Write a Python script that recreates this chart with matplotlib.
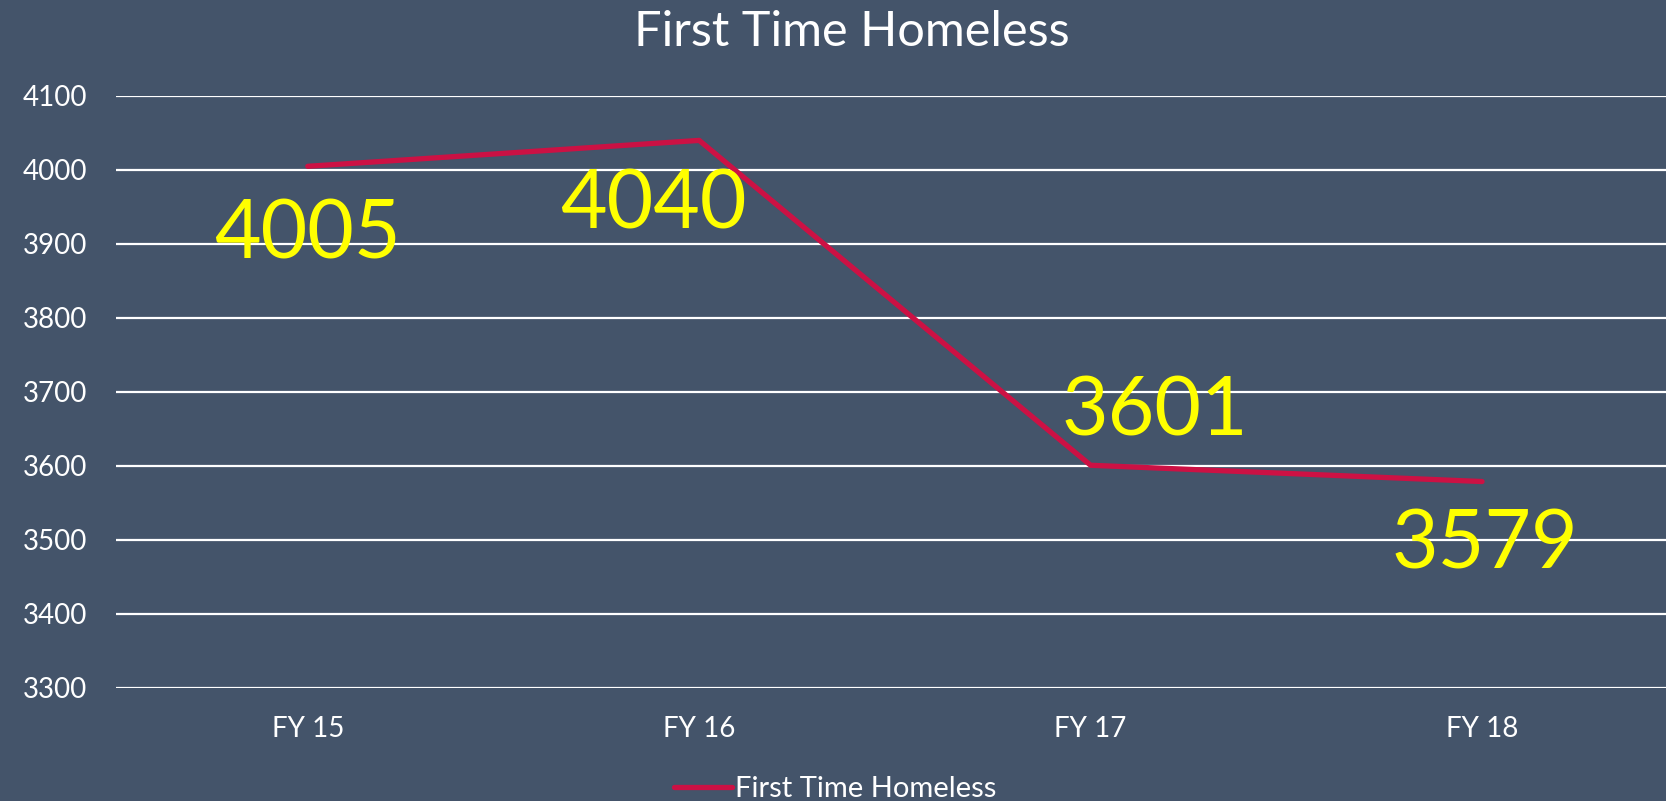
import matplotlib
matplotlib.use("Agg")
import matplotlib.pyplot as plt

plt.rcParams['font.family'] = ['Lato', 'DejaVu Sans']

years = ['FY 15', 'FY 16', 'FY 17', 'FY 18']
counts = [4005, 4040, 3601, 3579]
yticks = [3300, 3400, 3500, 3600, 3700, 3800, 3900, 4000, 4100]
series_name = 'First Time Homeless'

bg = '#44546A'
line_col = '#CC1144'

fig = plt.figure(figsize=(16.66, 8.01), dpi=100)
fig.patch.set_facecolor(bg)
ax = fig.add_axes([116 / 1666, 1 - 688 / 801, 1 - 116 / 1666, (688 - 96) / 801])
ax.set_facecolor(bg)

x = list(range(len(years)))
line, = ax.plot(x, counts, color=line_col, lw=3.8, solid_capstyle='round',
                label=series_name, zorder=3)

ax.set_xlim(-0.49, 3.47)
ax.set_ylim(3300, 4100)
ax.set_yticks(yticks)
ax.set_xticks(x)
ax.set_xticklabels(years)
ax.grid(axis='y', color='white', lw=1.6, zorder=1)
ax.set_axisbelow(True)
for s in ax.spines.values():
    s.set_visible(False)
ax.tick_params(length=0, colors='white', labelsize=20)
ax.tick_params(axis='y', pad=21)
ax.tick_params(axis='x', pad=20)

# data labels (offsets in points)
offsets = [(0, -50), (-33, -47), (46, 38), (2, -46)]
for xi, v, off in zip(x, counts, offsets):
    ax.annotate(str(v), (xi, v), xytext=off, textcoords='offset points',
                ha='center', va='center', color='#FFFF00', fontsize=58, zorder=4)

fig.text(852 / 1666, 1 - 32 / 801, series_name, ha='center', va='center',
         color='white', fontsize=35)

leg = fig.legend(handles=[line], loc='center', bbox_to_anchor=(835 / 1666, 1 - 789 / 801),
                 frameon=False, fontsize=21, handlelength=2.0, handletextpad=0.1,
                 labelcolor='white', borderpad=0)

fig.savefig('out.png', dpi=100, facecolor=bg)
